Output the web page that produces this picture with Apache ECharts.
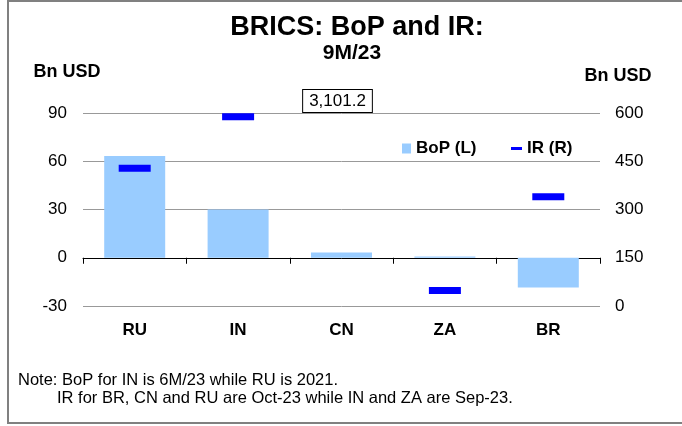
<!DOCTYPE html>
<html>
<head>
<meta charset="utf-8">
<title>BRICS: BoP and IR</title>
<script src="https://cdn.jsdelivr.net/npm/echarts@6.0.0/dist/echarts.min.js"></script>
<style>
    html, body { margin: 0; padding: 0; background: #fff; }
    #chart { width: 682px; height: 426px; }
</style>
</head>
<body>
<div id="chart"></div>
<script>
// data
const categories = ["RU", "IN", "CN", "ZA", "BR"];
const bopValues = [63.2, 30, 3.3, 0.8, -18.5]; // Bn USD, left axis
const irValues = [428, 588, 3101.2, 48, 340]; // Bn USD, right axis
const leftTicks = { min: -30, max: 90, interval: 30 };
const rightTicks = { min: 0, max: 600, interval: 150 };

const FONT = "Liberation Sans, Arial, sans-serif";

// IR above the right axis max: keep it at the top edge and show the value in a box
const fmt = v => v.toLocaleString("en-US", { minimumFractionDigits: 1, maximumFractionDigits: 1 });
const irData = irValues.map(v => {
    if (v <= rightTicks.max) return v;
    return {
        value: rightTicks.max,
        symbolSize: 0,
        label: {
            show: true,
            position: "top",
            distance: 1,
            offset: [-4, 0],
            formatter: fmt(v),
            color: "#000",
            fontFamily: FONT,
            fontSize: 17,
            backgroundColor: "#fff",
            borderColor: "#000",
            borderWidth: 1,
            padding: [3, 6, 2, 6]
        }
    };
});

const option = {
    animation: false,
    backgroundColor: "#fff",
    textStyle: { fontFamily: FONT, color: "#000" },
    grid: { left: 83, right: 82, top: 113, bottom: 120, containLabel: false },
    legend: [
        {
            data: ["BoP (L)"],
            left: 397,
            top: 135,
            icon: "rect",
            itemWidth: 9,
            itemHeight: 10,
            itemGap: 4,
            textStyle: { fontFamily: FONT, fontSize: 17, fontWeight: "bold", color: "#000" }
        },
        {
            data: ["IR (R)"],
            left: 506,
            top: 135,
            icon: "rect",
            itemWidth: 11,
            itemHeight: 3,
            textStyle: { fontFamily: FONT, fontSize: 17, fontWeight: "bold", color: "#000" }
        }
    ],
    xAxis: {
        type: "category",
        data: categories,
        axisLine: { onZero: true, onZeroAxisIndex: 0, lineStyle: { color: "#000", width: 1 } },
        axisTick: { show: true, length: 6, lineStyle: { color: "#000" } },
        axisLabel: { margin: 16, fontFamily: FONT, fontSize: 17, fontWeight: "bold", color: "#000" },
        splitLine: { show: false }
    },
    yAxis: [
        {
            type: "value",
            min: leftTicks.min,
            max: leftTicks.max,
            interval: leftTicks.interval,
            axisLine: { show: false },
            axisTick: { show: false },
            axisLabel: { margin: 16, fontFamily: FONT, fontSize: 17, color: "#000" },
            splitLine: { lineStyle: { color: "#999", width: 1 } }
        },
        {
            type: "value",
            min: rightTicks.min,
            max: rightTicks.max,
            interval: rightTicks.interval,
            axisLine: { show: false },
            axisTick: { show: false },
            axisLabel: { margin: 15, fontFamily: FONT, fontSize: 17, color: "#000" },
            splitLine: { show: false }
        }
    ],
    series: [
        {
            name: "BoP (L)",
            type: "bar",
            yAxisIndex: 0,
            data: bopValues,
            barWidth: 61,
            itemStyle: { color: "#99CCFF" }
        },
        {
            name: "IR (R)",
            type: "scatter",
            yAxisIndex: 1,
            data: irData,
            symbol: "rect",
            symbolSize: [32, 7],
            clip: false,
            itemStyle: { color: "#0000FF", opacity: 1 },
            z: 5
        }
    ],
    graphic: [
        // outer frame
        {
            type: "rect",
            shape: { x: 8, y: 1, width: 700, height: 422 },
            style: { fill: null, stroke: "#808080", lineWidth: 2 },
            silent: true
        },
        {
            type: "text",
            x: 357,
            y: 28,
            style: { text: "BRICS: BoP and IR:", font: "bold 27px " + FONT, fill: "#000", textAlign: "center", textVerticalAlign: "middle" }
        },
        {
            type: "text",
            x: 352,
            y: 53,
            style: { text: "9M/23", font: "bold 21px " + FONT, fill: "#000", textAlign: "center", textVerticalAlign: "middle" }
        },
        {
            type: "text",
            x: 67,
            y: 72,
            style: { text: "Bn USD", font: "bold 18px " + FONT, fill: "#000", textAlign: "center", textVerticalAlign: "middle" }
        },
        {
            type: "text",
            x: 618,
            y: 76,
            style: { text: "Bn USD", font: "bold 18px " + FONT, fill: "#000", textAlign: "center", textVerticalAlign: "middle" }
        },
        // footnote
        {
            type: "text",
            x: 18,
            y: 380,
            style: { text: "Note: BoP for IN is 6M/23 while RU is 2021.", font: "16.5px " + FONT, fill: "#000", textVerticalAlign: "middle" }
        },
        {
            type: "text",
            x: 57,
            y: 398,
            style: { text: "IR for BR, CN and RU are Oct-23 while IN and ZA are Sep-23.", font: "16.5px " + FONT, fill: "#000", textVerticalAlign: "middle" }
        }
    ]
};

const chart = echarts.init(document.getElementById("chart"));
chart.setOption(option);
</script>
</body>
</html>
